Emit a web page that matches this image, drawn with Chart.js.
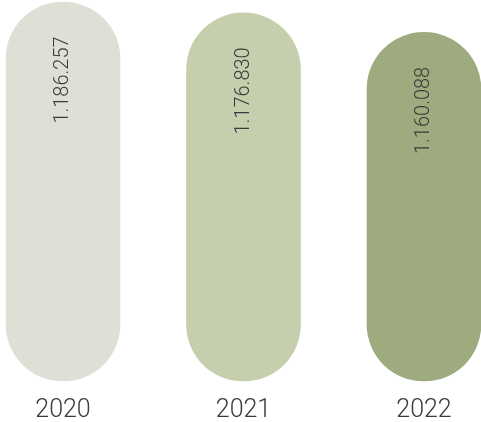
<!DOCTYPE html>
<html>
<head>
<meta charset="utf-8">
<script src="https://cdn.jsdelivr.net/npm/chart.js@4/dist/chart.umd.min.js"></script>
<style>
  html, body { margin: 0; padding: 0; background: #fff; }
  #wrap { width: 481px; height: 422px; }
</style>
</head>
<body>
<div id="wrap"><canvas id="chart" width="481" height="422"></canvas></div>
<script>
const years = ["2020", "2021", "2022"];
const totals = [1186257, 1176830, 1160088];
const barColors = ["#dfe0d5", "#c5cead", "#9eab7e"];
const axisMin = 860000;
const axisMax = 1187979;

// value with dots as thousands separator
const fmt = (v) => String(v).replace(/\B(?=(\d{3})+(?!\d))/g, ".");

const valueLabels = {
  id: "valueLabels",
  afterDatasetsDraw(chart) {
    const ctx = chart.ctx;
    const meta = chart.getDatasetMeta(0);
    ctx.save();
    ctx.fillStyle = "#3a3a3a";
    ctx.font = "300 20px Roboto";
    ctx.textAlign = "center";
    ctx.textBaseline = "middle";
    meta.data.forEach((bar, i) => {
      ctx.save();
      ctx.translate(bar.x, bar.y + 78);
      ctx.rotate(-Math.PI / 2);
      ctx.fillText(fmt(totals[i]), 0, 0);
      ctx.restore();
    });
    ctx.restore();
  }
};

new Chart(document.getElementById("chart").getContext("2d"), {
  type: "bar",
  data: {
    labels: years,
    datasets: [
      {
        data: totals,
        base: axisMin,
        backgroundColor: barColors,
        barThickness: 114,
        borderRadius: 57,
        borderSkipped: false,
        clip: false
      }
    ]
  },
  options: {
    responsive: false,
    animation: false,
    layout: { padding: { left: 63, right: 57, top: 0, bottom: 0 } },
    plugins: { legend: { display: false }, tooltip: { enabled: false } },
    scales: {
      x: {
        offset: false,
        afterFit: (scale) => { scale.height = 41; },
        grid: { display: false, drawTicks: false },
        border: { display: false },
        ticks: {
          padding: 22,
          color: "#3a3a3a",
          font: { family: "Roboto", weight: 300, size: 25, lineHeight: 0.6 }
        }
      },
      y: {
        display: false,
        min: axisMin,
        max: axisMax
      }
    }
  },
  plugins: [valueLabels]
});
</script>
</body>
</html>
